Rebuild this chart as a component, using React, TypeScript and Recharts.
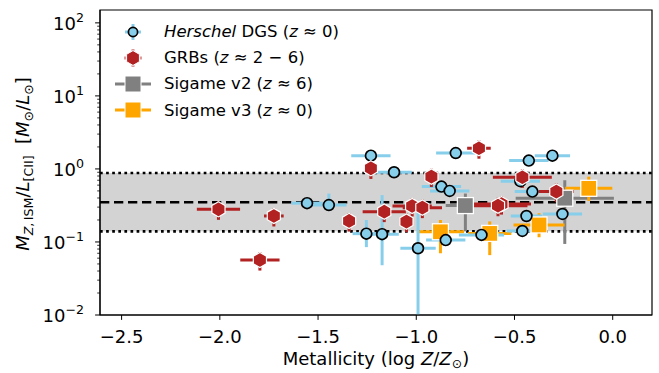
import React from 'react'
import { ScatterChart, Scatter, XAxis, YAxis, ErrorBar, ReferenceArea, ReferenceLine, Label } from 'recharts'

const FONT = '"DejaVu Sans", sans-serif'

// Herschel DGS (z ~ 0)
const dgsZ = [-1.556, -1.445, -1.231, -1.113, -1.254, -1.174, -0.991, -0.872, -0.83, -0.799, -0.85, -0.668, -0.46, -0.439, -0.409, -0.427, -0.307, -0.256, -0.47]
const dgsRatio = [0.34, 0.32, 1.52, 0.9, 0.13, 0.128, 0.082, 0.573, 0.5, 1.65, 0.106, 0.125, 0.1415, 0.227, 0.489, 1.3, 1.52, 0.242, 0.68]
const dgsZErr = [0.08, 0.09, 0.1, 0.09, 0.07, 0.085, 0.09, 0.1, 0.1, 0.1, 0.1, 0.115, 0.08, 0.08, 0.09, 0.1, 0.09, 0.1, 0.1]
const dgsRatioErr = [[0, 0], [0.05, 0.14], [0, 0], [0, 0.15], [0.045, 0.07], [0.08, 0.31], [0.0719, 0.17], [0, 0], [0, 0], [0, 0], [0, 0], [0, 0], [0, 0], [0, 0], [0, 0], [0, 0], [0, 0], [0, 0], [0, 0]]

// GRBs (z ~ 2-6)
const grbZ = [-2.007, -1.796, -1.725, -1.342, -1.231, -1.163, -1.05, -1.021, -0.969, -0.923, -0.681, -0.566, -0.584, -0.46, -0.287]
const grbRatio = [0.28, 0.0566, 0.227, 0.194, 1.02, 0.26, 0.19, 0.311, 0.295, 0.785, 1.92, 0.33, 0.314, 0.77, 0.489]
const grbZErr = [0.11, 0.1, 0.05, 0.03, 0.03, 0.11, 0.03, 0.1, 0.1, 0.03, 0.06, 0.15, 0.15, 0.15, 0.09]
const grbRatioErr = [0.079, 0.016, 0.064, 0.055, 0.29, 0.073, 0.054, 0.088, 0.083, 0.22, 0.54, 0.093, 0.089, 0.22, 0.14]

// Sigame v2 (z ~ 6)
const v2Z = [-0.75, -0.244]
const v2Ratio = [0.315, 0.397]
const v2ZErr = [0.1, 0.25]
const v2RatioErr = [[0.175, 0.145], [0.303, 0.303]]

// Sigame v3 (z ~ 0)
const v3Z = [-0.877, -0.626, -0.375, -0.122]
const v3Ratio = [0.138, 0.131, 0.171, 0.543]
const v3ZErr = [0.12, 0.11, 0.13, 0.12]
const v3RatioErr = [[0.068, 0.062], [0.065, 0.06], [0.055, 0.076], [0.178, 0.242]]

const meanRatio = 0.35
const bandLow = 0.14
const bandHigh = 0.88

const xTicks = [-2.5, -2, -1.5, -1, -0.5, 0]
const yTicks = [
  0.01, 0.02, 0.03, 0.04, 0.05, 0.06, 0.07, 0.08, 0.09,
  0.1, 0.2, 0.3, 0.4, 0.5, 0.6, 0.7, 0.8, 0.9,
  1, 2, 3, 4, 5, 6, 7, 8, 9,
  10, 20, 30, 40, 50, 60, 70, 80, 90, 100,
]

const dgs = dgsZ.map((x, i) => ({ x, y: dgsRatio[i], ex: dgsZErr[i], ey: dgsRatioErr[i] }))
const grb = grbZ.map((x, i) => ({ x, y: grbRatio[i], ex: grbZErr[i], ey: grbRatioErr[i] }))
const v2 = v2Z.map((x, i) => ({ x, y: v2Ratio[i], ex: v2ZErr[i], ey: v2RatioErr[i] }))
const v3 = v3Z.map((x, i) => ({ x, y: v3Ratio[i], ex: v3ZErr[i], ey: v3RatioErr[i] }))

const SKY = '#87ceeb'
const RED = '#b22222'
const GREY = '#808080'
const ORANGE = '#ffa500'

function hexPoints(cx: number, cy: number, r: number) {
  const pts = []
  for (let k = 0; k < 6; k++) {
    const a = (Math.PI / 3) * k
    pts.push(`${cx + r * Math.sin(a)},${cy - r * Math.cos(a)}`)
  }
  return pts.join(' ')
}

const Circle = (p: any) => <circle cx={p.cx} cy={p.cy} r={5.4} fill={SKY} stroke="#000" strokeWidth={1.7} />
const Hex = (p: any) => <polygon points={hexPoints(p.cx, p.cy, 7.6)} fill={RED} stroke="#fff" strokeWidth={1.2} />
const Square = (color: string) => (p: any) => (
  <rect x={p.cx - 8} y={p.cy - 8} width={16} height={16} fill={color} stroke="#fff" strokeWidth={1.3} />
)

const YTick = (props: any) => {
  const { x, y, payload } = props
  const lg = Math.log10(payload.value)
  const exp = Math.round(lg)
  const major = Math.abs(lg - exp) < 1e-6
  return (
    <g>
      <line x1={x - (major ? 4.9 : 2.8)} x2={x} y1={y} y2={y} stroke="#000" strokeWidth={major ? 1 : 0.8} />
      {major && (
        <text x={x - 16} y={y + 7} textAnchor="end" fontSize={18} fontFamily={FONT} fill="#000">
          10
          <tspan dy={-8} fontSize={12.6}>{exp < 0 ? '\u2212' + Math.abs(exp) : exp}</tspan>
        </text>
      )}
    </g>
  )
}

const XLabel = (props: any) => {
  const { viewBox } = props
  const cx = viewBox.x + viewBox.width / 2
  return (
    <text x={cx} y={viewBox.y + 50} textAnchor="middle" fontSize={18} fontFamily={FONT} fill="#000">
      Metallicity (log <tspan fontStyle="italic">Z</tspan>/<tspan fontStyle="italic">Z</tspan>
      <tspan dy={3} fontSize={12.6}>⊙</tspan>
      <tspan dy={-3}>)</tspan>
    </text>
  )
}

const YLabel = (props: any) => {
  const { viewBox } = props
  const cy = viewBox.y + viewBox.height / 2 + 1.5
  const x = 29
  return (
    <text x={x} y={cy} transform={`rotate(-90 ${x} ${cy})`} textAnchor="middle" fontSize={18} fontFamily={FONT} fill="#000">
      <tspan fontStyle="italic">M</tspan>
      <tspan dy={4} fontSize={12.6}><tspan fontStyle="italic">Z</tspan>,{'\u2009'}ISM</tspan>
      <tspan dy={-4}>/</tspan>
      <tspan fontStyle="italic">L</tspan>
      <tspan dy={4} fontSize={12.6}>[CII]</tspan>
      <tspan dy={-4}>{'\u00a0\u00a0['}</tspan>
      <tspan fontStyle="italic">M</tspan>
      <tspan dy={4} fontSize={12.6}>⊙</tspan>
      <tspan dy={-4}>/</tspan>
      <tspan fontStyle="italic">L</tspan>
      <tspan dy={4} fontSize={12.6}>⊙</tspan>
      <tspan dy={-4}>]</tspan>
    </text>
  )
}

const legendRows = [
  { key: 'dgs', label: <><i>Herschel</i> DGS (<i>z</i> ≈ 0)</> },
  { key: 'grb', label: <>GRBs (<i>z</i> ≈ 2 − 6)</> },
  { key: 'v2', label: <>Sigame v2 (<i>z</i> ≈ 6)</> },
  { key: 'v3', label: <>Sigame v3 (<i>z</i> ≈ 0)</> },
]

function LegendMarker({ kind }: { kind: string }) {
  return (
    <svg width={44} height={26} style={{ display: 'block' }}>
      {kind === 'dgs' && (
        <g>
          <line x1={14} x2={30} y1={13} y2={13} stroke={SKY} strokeWidth={3} />
          <line x1={22} x2={22} y1={5} y2={21} stroke={SKY} strokeWidth={3} />
          <circle cx={22} cy={13} r={4.6} fill={SKY} stroke="#000" strokeWidth={1.7} />
        </g>
      )}
      {kind === 'grb' && (
        <g>
          <line x1={13} x2={31} y1={13} y2={13} stroke={RED} strokeOpacity={0.45} strokeWidth={3} />
          <line x1={22} x2={22} y1={4} y2={22} stroke={RED} strokeOpacity={0.45} strokeWidth={3} />
          <polygon points={hexPoints(22, 13, 7.4)} fill={RED} stroke="#fff" strokeWidth={1} />
        </g>
      )}
      {kind === 'v2' && (
        <g>
          <line x1={4} x2={40} y1={13} y2={13} stroke={GREY} strokeWidth={3} />
          <rect x={14} y={5} width={16} height={16} fill={GREY} stroke="#fff" strokeWidth={1} />
        </g>
      )}
      {kind === 'v3' && (
        <g>
          <line x1={4} x2={40} y1={13} y2={13} stroke={ORANGE} strokeWidth={3} />
          <rect x={14} y={5} width={16} height={16} fill={ORANGE} stroke="#fff" strokeWidth={1} />
        </g>
      )}
    </svg>
  )
}

export default function App() {
  return (
    <div style={{ position: 'absolute', left: 0, top: 0, width: 659, height: 373, background: '#fff', fontFamily: FONT }}>
      <ScatterChart width={659} height={373} margin={{ top: 10, right: 7, bottom: 28, left: 40 }}>
        <XAxis
          type="number"
          dataKey="x"
          domain={[-2.61, 0.2]}
          allowDataOverflow
          ticks={xTicks}
          tickFormatter={(v: number) => v.toFixed(1).replace('-', '\u2212')}
          tick={{ fontSize: 18, fill: '#000', fontFamily: FONT }}
          tickSize={4.9}
          tickMargin={10}
          stroke="#000"
          height={30}
        >
          <Label content={XLabel} />
        </XAxis>
        <YAxis
          type="number"
          dataKey="y"
          scale="log"
          domain={[0.01, 150]}
          allowDataOverflow
          ticks={yTicks}
          interval={0}
          tick={YTick}
          tickLine={false}
          tickSize={0}
          tickMargin={0}
          stroke="#000"
          width={60}
        >
          <Label content={YLabel} />
        </YAxis>
        <ReferenceArea y1={bandLow} y2={bandHigh} fill="#d3d3d3" fillOpacity={1} stroke="none" />
        <ReferenceLine y={bandHigh} stroke="#000" strokeWidth={2.7} strokeDasharray="2.7 3.4" />
        <ReferenceLine y={bandLow} stroke="#000" strokeWidth={2.7} strokeDasharray="2.7 3.4" />
        <ReferenceLine y={meanRatio} stroke="#000" strokeWidth={2.5} strokeDasharray="9.3 4.7" />
        <Scatter data={v2} shape={Square(GREY)} isAnimationActive={false}>
          <ErrorBar dataKey="ex" direction="x" width={0} stroke={GREY} strokeWidth={3} />
          <ErrorBar dataKey="ey" direction="y" width={0} stroke={GREY} strokeWidth={3} />
        </Scatter>
        <Scatter data={v3} shape={Square(ORANGE)} isAnimationActive={false}>
          <ErrorBar dataKey="ex" direction="x" width={0} stroke={ORANGE} strokeWidth={3} />
          <ErrorBar dataKey="ey" direction="y" width={0} stroke={ORANGE} strokeWidth={3} />
        </Scatter>
        <Scatter data={dgs} shape={Circle} isAnimationActive={false}>
          <ErrorBar dataKey="ex" direction="x" width={0} stroke={SKY} strokeWidth={3} />
          <ErrorBar dataKey="ey" direction="y" width={0} stroke={SKY} strokeWidth={3} />
        </Scatter>
        <Scatter data={grb} shape={Hex} isAnimationActive={false}>
          <ErrorBar dataKey="ex" direction="x" width={0} stroke={RED} strokeWidth={3} />
          <ErrorBar dataKey="ey" direction="y" width={0} stroke={RED} strokeWidth={3} />
        </Scatter>
        <ReferenceArea x1={-2.61} x2={0.2} y1={0.01} y2={150} fill="none" stroke="#000" strokeWidth={1.2} />
      </ScatterChart>
      <div style={{ position: 'absolute', left: 111, top: 18.7 }}>
        {legendRows.map((r) => (
          <div key={r.key} style={{ display: 'flex', alignItems: 'center', height: 26.1 }}>
            <LegendMarker kind={r.key} />
            <span style={{ marginLeft: 9, fontSize: 16.5, color: '#000', whiteSpace: 'nowrap' }}>{r.label}</span>
          </div>
        ))}
      </div>
    </div>
  )
}
